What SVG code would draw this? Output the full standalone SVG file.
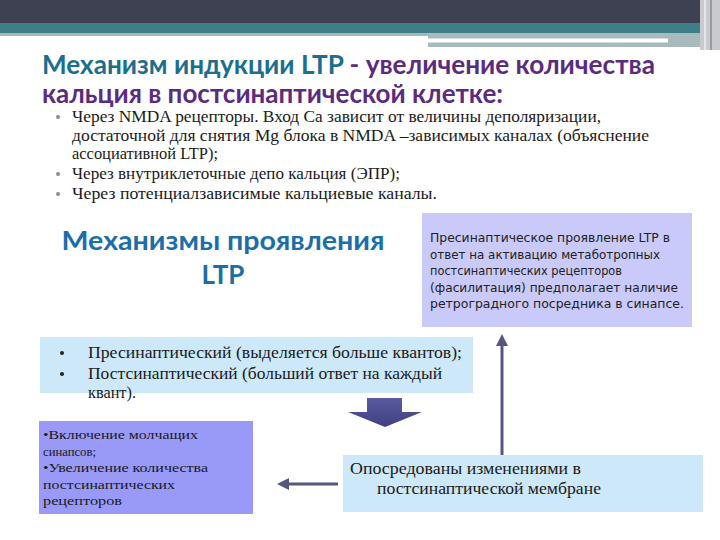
<svg xmlns="http://www.w3.org/2000/svg" width="720" height="540" viewBox="0 0 720 540">
<defs>
<style>
.title{font-family:Lato,"DejaVu Sans",sans-serif;font-weight:bold;font-size:26px}
.teal{fill:#1b6e8c}
.purple{fill:#5b2b80}
.ser{font-family:"Liberation Serif","DejaVu Serif",serif;fill:#1a1a1a}
.bul{font-size:16px}
.sans{font-family:"DejaVu Sans","Liberation Sans",sans-serif;font-size:12px;fill:#222}
.dot{fill:#8a8a8a}
.conn{stroke:#56567e;stroke-width:3;fill:none}
</style>
<marker id="ah" viewBox="0 0 10 10" refX="5" refY="5" markerWidth="4" markerHeight="4" orient="auto-start-reverse" markerUnits="strokeWidth">
<path d="M0,0 L10,5 L0,10 z" fill="#56567e"/>
</marker>
<linearGradient id="ag" x1="0" y1="0" x2="0" y2="1">
<stop offset="0" stop-color="#5a5aa0"/>
<stop offset="1" stop-color="#3f3f80"/>
</linearGradient>
</defs>
<rect width="720" height="540" fill="#ffffff"/>
<g id="header">
<rect x="0" y="0" width="720" height="23" fill="#3d4152"/>
<rect x="0" y="23" width="720" height="10" fill="#3e7f87"/>
<rect x="0" y="33" width="430" height="3" fill="#a6b6b9"/>
<rect x="428" y="33" width="272" height="14" fill="#a9babd"/>
<rect x="428" y="38.5" width="240" height="4" fill="#ffffff"/>
<rect x="700" y="0" width="20" height="50" fill="#c9cacf"/>
<rect x="704" y="0" width="2" height="50" fill="#e6e6ea"/>
<rect x="710" y="0" width="2" height="50" fill="#9a9aa2"/>
</g>
<g id="title">
<text class="title" x="42" y="74" textLength="613" lengthAdjust="spacingAndGlyphs"><tspan class="teal">Механизм индукции LTP</tspan><tspan class="purple"> - увеличение количества</tspan></text>
<text class="title purple" x="42" y="103" textLength="461" lengthAdjust="spacingAndGlyphs">кальция в постсинаптической клетке:</text>
</g>
<g id="bullets">
<circle class="dot" cx="58" cy="117" r="2"/>
<circle class="dot" cx="58" cy="174" r="2"/>
<circle class="dot" cx="58" cy="194" r="2"/>
<text class="ser" font-size="16.5" x="72" y="122" textLength="529" lengthAdjust="spacingAndGlyphs">Через NMDA рецепторы. Вход Ca зависит от величины деполяризации,</text>
<text class="ser" font-size="16.5" x="72" y="141" textLength="577" lengthAdjust="spacingAndGlyphs">достаточной для снятия Mg блока в NMDA –зависимых каналах (объяснение</text>
<text class="ser" font-size="16.5" x="72" y="159" textLength="146" lengthAdjust="spacingAndGlyphs">ассоциативной LTP);</text>
<text class="ser" font-size="16.5" x="72" y="179" textLength="328" lengthAdjust="spacingAndGlyphs">Через внутриклеточные депо кальция (ЭПР);</text>
<text class="ser" font-size="16.5" x="72" y="199" textLength="365" lengthAdjust="spacingAndGlyphs">Через потенциалзависимые кальциевые каналы.</text>
</g>
<g id="heading2">
<text x="223" y="250" text-anchor="middle" font-family="Lato,'DejaVu Sans',sans-serif" font-weight="bold" font-size="26" fill="#1c6ea8" textLength="323" lengthAdjust="spacingAndGlyphs">Механизмы проявления</text>
<text x="223" y="284" text-anchor="middle" font-family="Lato,'DejaVu Sans',sans-serif" font-weight="bold" font-size="26" fill="#1c6ea8">LTP</text>
</g>
<g id="presyn-box">
<rect x="422" y="213" width="270" height="114" fill="#c9c9fa"/>
<text class="sans" x="430" y="242" textLength="240" lengthAdjust="spacingAndGlyphs">Пресинаптическое проявление LTP в</text>
<text class="sans" x="430" y="258.5" textLength="230" lengthAdjust="spacingAndGlyphs">ответ на активацию метаботропных</text>
<text class="sans" x="430" y="275" textLength="192" lengthAdjust="spacingAndGlyphs">постсинаптических рецепторов</text>
<text class="sans" x="430" y="291.5" textLength="248" lengthAdjust="spacingAndGlyphs">(фасилитация) предполагает наличие</text>
<text class="sans" x="430" y="308" textLength="254" lengthAdjust="spacingAndGlyphs">ретроградного посредника в синапсе.</text>
</g>
<g id="types-box">
<rect x="40" y="337" width="433" height="56" fill="#cde8f8"/>
<circle cx="62" cy="353" r="2" fill="#222"/>
<circle cx="62" cy="374" r="2" fill="#222"/>
<text class="ser bul" x="88" y="358" textLength="374" lengthAdjust="spacingAndGlyphs">Пресинаптический (выделяется больше квантов);</text>
<text class="ser bul" x="88" y="379" textLength="354" lengthAdjust="spacingAndGlyphs">Постсинаптический (больший ответ на каждый</text>
<text class="ser bul" x="88" y="398" textLength="48" lengthAdjust="spacingAndGlyphs">квант).</text>
</g>
<g id="down-arrow">
<polygon points="367,398 402,398 402,412 422,412 385,427 348,412 367,412" fill="url(#ag)"/>
</g>
<g id="silent-box">
<rect x="39" y="421" width="214" height="93" fill="#9999f7"/>
<text class="ser" font-size="13.5" x="43" y="439" textLength="155" lengthAdjust="spacingAndGlyphs">•Включение молчащих</text>
<text class="ser" font-size="13.5" x="43" y="456" textLength="53" lengthAdjust="spacingAndGlyphs">синапсов;</text>
<text class="ser" font-size="13.5" x="43" y="472" textLength="165" lengthAdjust="spacingAndGlyphs">•Увеличение количества</text>
<text class="ser" font-size="13.5" x="43" y="489" textLength="132" lengthAdjust="spacingAndGlyphs">постсинаптических</text>
<text class="ser" font-size="13.5" x="43" y="505" textLength="79" lengthAdjust="spacingAndGlyphs">рецепторов</text>
</g>
<g id="membrane-box">
<rect x="343" y="455" width="360" height="57" fill="#cde8f8"/>
<text class="ser bul" x="350" y="474" textLength="231" lengthAdjust="spacingAndGlyphs">Опосредованы изменениями в</text>
<text class="ser bul" x="377" y="494" textLength="224" lengthAdjust="spacingAndGlyphs">постсинаптической мембране</text>
</g>
<g id="connectors">
<line class="conn" x1="502" y1="455" x2="502" y2="340" marker-end="url(#ah)"/>
<line class="conn" x1="338" y1="484" x2="283" y2="484" marker-end="url(#ah)"/>
</g>
</svg>
